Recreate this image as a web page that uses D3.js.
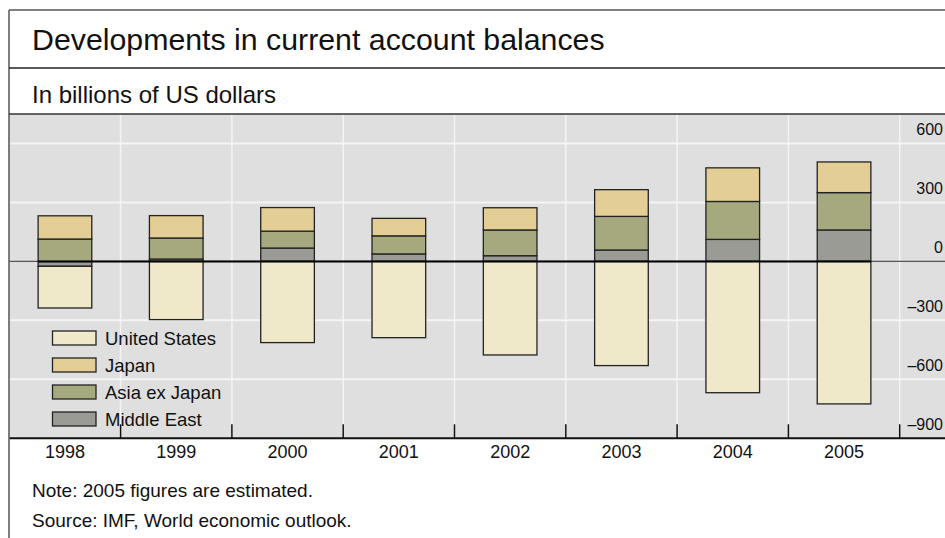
<!DOCTYPE html>
<html>
<head>
<meta charset="utf-8">
<script src="https://cdn.jsdelivr.net/npm/d3@7"></script>
<style>
  html, body { margin: 0; padding: 0; background: #fff; }
  svg { display: block; font-family: "Liberation Sans", Arial, sans-serif; }
</style>
</head>
<body>
<svg id="chart" width="945" height="538"></svg>
<script>
const years = ["1998", "1999", "2000", "2001", "2002", "2003", "2004", "2005"];
const unitedStates = [-212, -296, -413, -388, -476, -530, -668, -725];
const japan = [118, 114, 120, 89, 113, 136, 171, 156];
const asiaExJapan = [114, 107, 86, 92, 131, 171, 193, 190];
const middleEast = [-25, 12, 68, 38, 29, 58, 112, 160];
const yTicks = [600, 300, 0, -300, -600, -900];
const seriesNames = ["United States", "Japan", "Asia ex Japan", "Middle East"];
const seriesColors = ["#f0e9c9", "#e3cf95", "#a6a97e", "#999b94"];

const svg = d3.select("#chart");
const W = 945, H = 538;
const plotLeft = 9.3, plotRight = 899.7, plotTop = 114, plotBottom = 438.3;

const rows = years.map((y, i) => ({
  year: y,
  "Middle East": middleEast[i],
  "Asia ex Japan": asiaExJapan[i],
  "Japan": japan[i],
  "United States": unitedStates[i]
}));
const stackKeys = ["Middle East", "Asia ex Japan", "Japan", "United States"];
const stacked = d3.stack().keys(stackKeys).offset(d3.stackOffsetDiverging)(rows);
const colorOf = d3.scaleOrdinal().domain(seriesNames).range(seriesColors);

const x = d3.scaleBand().domain(years).range([plotLeft, plotRight]).padding(0);
const y = d3.scaleLinear().domain([-900, 750]).range([plotBottom, plotTop]);
const barW = x.bandwidth() * 0.482;
const barOff = (x.bandwidth() - barW) / 2;

// background
svg.append("rect").attr("x", plotLeft).attr("y", plotTop)
  .attr("width", W - plotLeft).attr("height", plotBottom - plotTop)
  .attr("fill", "#dfdfdf");

// horizontal gridlines
svg.append("g").selectAll("line").data(yTicks.filter(t => t !== 0 && t !== -900)).join("line")
  .attr("x1", plotLeft).attr("x2", W)
  .attr("y1", d => y(d)).attr("y2", d => y(d))
  .attr("stroke", "#f4f4f4").attr("stroke-width", 2);

// vertical gridlines at band boundaries
const bounds = years.slice(1).map(d => x(d)).concat([plotRight]);
svg.append("g").selectAll("line").data(bounds).join("line")
  .attr("x1", d => d).attr("x2", d => d)
  .attr("y1", plotTop).attr("y2", plotBottom)
  .attr("stroke", "#f4f4f4").attr("stroke-width", 1.5);

// thin zero line across
svg.append("line").attr("x1", plotLeft).attr("x2", W)
  .attr("y1", y(0)).attr("y2", y(0))
  .attr("stroke", "#555").attr("stroke-width", 1.2);

// bars
const gBars = svg.append("g");
stacked.forEach(layer => {
  gBars.append("g").selectAll("rect").data(layer).join("rect")
    .attr("x", d => x(d.data.year) + barOff)
    .attr("width", barW)
    .attr("y", d => y(Math.max(d[0], d[1])))
    .attr("height", d => Math.abs(y(d[0]) - y(d[1])))
    .attr("fill", colorOf(layer.key))
    .attr("stroke", "#222").attr("stroke-width", 1.3);
});

// black zero line between first and last bars
svg.append("line")
  .attr("x1", x(years[0]) + barOff).attr("x2", x(years[years.length - 1]) + barOff + barW)
  .attr("y1", y(0)).attr("y2", y(0))
  .attr("stroke", "#000").attr("stroke-width", 2);

// right axis labels
svg.append("g").selectAll("text").data(yTicks).join("text")
  .attr("x", 943).attr("y", d => y(d) - 8)
  .attr("text-anchor", "end")
  .attr("font-size", 16).attr("fill", "#111")
  .text(d => d < 0 ? "\u2013" + Math.abs(d) : String(d));

// bottom axis
svg.append("line").attr("x1", plotLeft).attr("x2", W)
  .attr("y1", plotBottom).attr("y2", plotBottom)
  .attr("stroke", "#111").attr("stroke-width", 2);
svg.append("g").selectAll("line").data(bounds).join("line")
  .attr("x1", d => d).attr("x2", d => d)
  .attr("y1", plotBottom - 14).attr("y2", plotBottom)
  .attr("stroke", "#111").attr("stroke-width", 1.5);

// year labels
svg.append("g").selectAll("text").data(years).join("text")
  .attr("x", d => x(d) + x.bandwidth() / 2).attr("y", 458)
  .attr("text-anchor", "middle").attr("font-size", 18).attr("fill", "#111")
  .text(d => d);

// legend
const lg = svg.append("g");
seriesNames.forEach((name, i) => {
  const cy = 338 + i * 27;
  lg.append("rect").attr("x", 52.5).attr("y", cy - 7).attr("width", 43.5).attr("height", 14)
    .attr("fill", colorOf(name)).attr("stroke", "#222").attr("stroke-width", 1.3);
  lg.append("text").attr("x", 105).attr("y", cy + 6.5)
    .attr("font-size", 18.5).attr("fill", "#111").text(name);
});

// frame lines
svg.append("line").attr("x1", 9).attr("x2", W).attr("y1", 10).attr("y2", 10)
  .attr("stroke", "#555").attr("stroke-width", 1.5);
svg.append("line").attr("x1", 9).attr("x2", 9).attr("y1", 10).attr("y2", H)
  .attr("stroke", "#555").attr("stroke-width", 1.5);
svg.append("line").attr("x1", 9).attr("x2", W).attr("y1", 68).attr("y2", 68)
  .attr("stroke", "#222").attr("stroke-width", 1.3);
svg.append("line").attr("x1", 9).attr("x2", W).attr("y1", plotTop).attr("y2", plotTop)
  .attr("stroke", "#333").attr("stroke-width", 1.3);

// texts
svg.append("text").attr("x", 32).attr("y", 50).attr("font-size", 30.3).attr("fill", "#111")
  .text("Developments in current account balances");
svg.append("text").attr("x", 32).attr("y", 103).attr("font-size", 24).attr("fill", "#111")
  .text("In billions of US dollars");
svg.append("text").attr("x", 32).attr("y", 497).attr("font-size", 19).attr("fill", "#111")
  .text("Note: 2005 figures are estimated.");
svg.append("text").attr("x", 32).attr("y", 527).attr("font-size", 19).attr("fill", "#111")
  .text("Source: IMF, World economic outlook.");
</script>
</body>
</html>
